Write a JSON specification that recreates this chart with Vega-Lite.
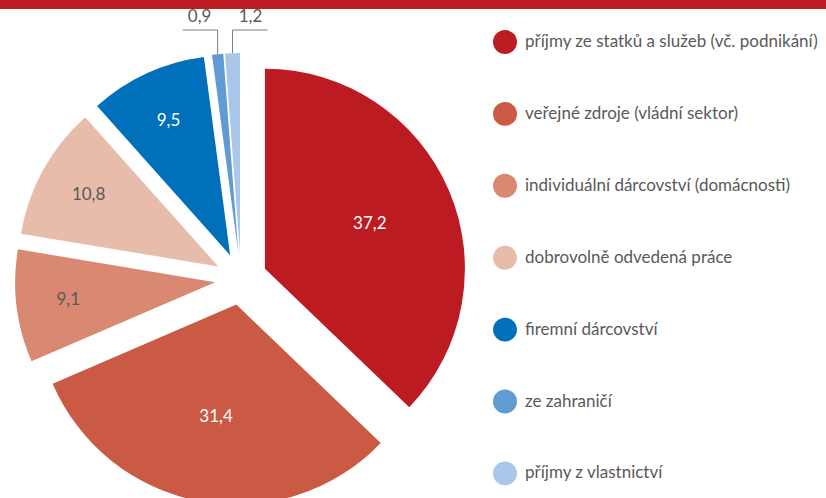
{
  "$schema": "https://vega.github.io/schema/vega-lite/v6.json",
  "width": 826,
  "height": 498,
  "autosize": {"type": "none"},
  "padding": 0,
  "background": "white",
  "config": {
    "view": {"stroke": null},
    "font": "Lato",
    "locale": {"number": {"decimal": ",", "thousands": " ", "grouping": [3], "currency": ["", " Kč"]}}
  },
  "data": {
    "values": [
      {"cat": "příjmy ze statků a služeb (vč. podnikání)", "value": 37.2},
      {"cat": "veřejné zdroje (vládní sektor)", "value": 31.4},
      {"cat": "individuální dárcovství (domácnosti)", "value": 9.1},
      {"cat": "dobrovolně odvedená práce", "value": 10.8},
      {"cat": "firemní dárcovství", "value": 9.5},
      {"cat": "ze zahraničí", "value": 0.9},
      {"cat": "příjmy z vlastnictví", "value": 1.2}
    ]
  },
  "transform": [
    {"window": [{"op": "sum", "field": "value", "as": "cum"}], "frame": [null, 0]},
    {"calculate": "datum.cum - datum.value", "as": "start"},
    {"calculate": "(datum.start + datum.value / 2) / 100.1 * 2 * PI", "as": "mid"},
    {"calculate": "0.13 * sin(datum.mid)", "as": "ex"},
    {"calculate": "0.13 * cos(datum.mid)", "as": "ey"},
    {"calculate": "datum.value > 20 ? 0.7 : 0.87", "as": "lr"},
    {"calculate": "datum.lr * sin(datum.mid)", "as": "lx"},
    {"calculate": "datum.lr * cos(datum.mid)", "as": "ly"},
    {"calculate": "1.13 * sin(datum.mid)", "as": "ox"},
    {"calculate": "1.13 * cos(datum.mid)", "as": "oy"},
    {"calculate": "datum.value < 1 ? -1 : 1", "as": "side"},
    {"calculate": "datum.ox + datum.side * 0.175", "as": "hx"},
    {"calculate": "datum.ox + datum.side * 0.09", "as": "tx"},
    {"calculate": "1.245", "as": "ky"},
    {"calculate": "1.265", "as": "ty"}
  ],
  "layer": [
    {
      "mark": {"type": "arc", "radius": 200},
      "encoding": {
        "x": {"field": "ex", "type": "quantitative", "scale": {"domain": [-1, 1], "range": [41, 441]}, "axis": null},
        "y": {"field": "ey", "type": "quantitative", "scale": {"domain": [-1, 1], "range": [479, 79]}, "axis": null},
        "theta": {"field": "start", "type": "quantitative", "scale": {"domain": [0, 100.1], "range": [0, 6.283185307]}},
        "theta2": {"field": "cum"},
        "color": {
          "field": "cat",
          "type": "nominal",
          "scale": {
            "domain": ["příjmy ze statků a služeb (vč. podnikání)", "veřejné zdroje (vládní sektor)", "individuální dárcovství (domácnosti)", "dobrovolně odvedená práce", "firemní dárcovství", "ze zahraničí", "příjmy z vlastnictví"],
            "range": ["#BD1B22", "#CB5A45", "#D98872", "#E8BCAA", "#0070BA", "#619BD4", "#AAC6E9"]
          },
          "legend": {
            "orient": "none",
            "legendX": 493,
            "legendY": 30,
            "title": null,
            "symbolType": "circle",
            "symbolSize": 573,
            "symbolStrokeWidth": 0,
            "labelFontSize": 17,
            "labelColor": "#595959",
            "labelFont": "Lato",
            "labelOffset": 8,
            "rowPadding": 47.9,
            "padding": 0,
            "labelLimit": 400
          }
        }
      }
    },
    {
      "transform": [{"filter": "datum.value >= 2"}],
      "mark": {"type": "text", "fontSize": 17, "font": "Lato"},
      "encoding": {
        "x": {"field": "lx", "type": "quantitative", "scale": {"domain": [-1, 1], "range": [41, 441]}, "axis": null},
        "y": {"field": "ly", "type": "quantitative", "scale": {"domain": [-1, 1], "range": [479, 79]}, "axis": null},
        "text": {"field": "value", "type": "quantitative", "format": ".1f"},
        "color": {"condition": {"test": "datum.value < 10 && datum.value > 9.2 || datum.value > 20", "value": "white"}, "value": "#595959"}
      }
    },
    {
      "transform": [{"filter": "datum.value < 2"}],
      "mark": {"type": "rule", "color": "#7f7f7f", "strokeWidth": 1},
      "encoding": {
        "x": {"field": "ox", "type": "quantitative", "scale": {"domain": [-1, 1], "range": [41, 441]}, "axis": null},
        "y": {"field": "oy", "type": "quantitative", "scale": {"domain": [-1, 1], "range": [479, 79]}, "axis": null},
        "x2": {"field": "ox"},
        "y2": {"field": "ky"}
      }
    },
    {
      "transform": [{"filter": "datum.value < 2"}],
      "mark": {"type": "rule", "color": "#7f7f7f", "strokeWidth": 1},
      "encoding": {
        "x": {"field": "ox", "type": "quantitative", "scale": {"domain": [-1, 1], "range": [41, 441]}, "axis": null},
        "y": {"field": "ky", "type": "quantitative", "scale": {"domain": [-1, 1], "range": [479, 79]}, "axis": null},
        "x2": {"field": "hx"},
        "y2": {"field": "ky"}
      }
    },
    {
      "transform": [{"filter": "datum.value < 2"}],
      "mark": {"type": "text", "fontSize": 17, "font": "Lato", "baseline": "bottom", "color": "#595959"},
      "encoding": {
        "x": {"field": "tx", "type": "quantitative", "scale": {"domain": [-1, 1], "range": [41, 441]}, "axis": null},
        "y": {"field": "ty", "type": "quantitative", "scale": {"domain": [-1, 1], "range": [479, 79]}, "axis": null},
        "text": {"field": "value", "type": "quantitative", "format": ".1f"}
      }
    },
    {
      "data": {"values": [{}]},
      "mark": {"type": "rect", "color": "#BE1E23"},
      "encoding": {
        "x": {"value": 0},
        "x2": {"value": 826},
        "y": {"value": 0},
        "y2": {"value": 9}
      }
    }
  ]
}
